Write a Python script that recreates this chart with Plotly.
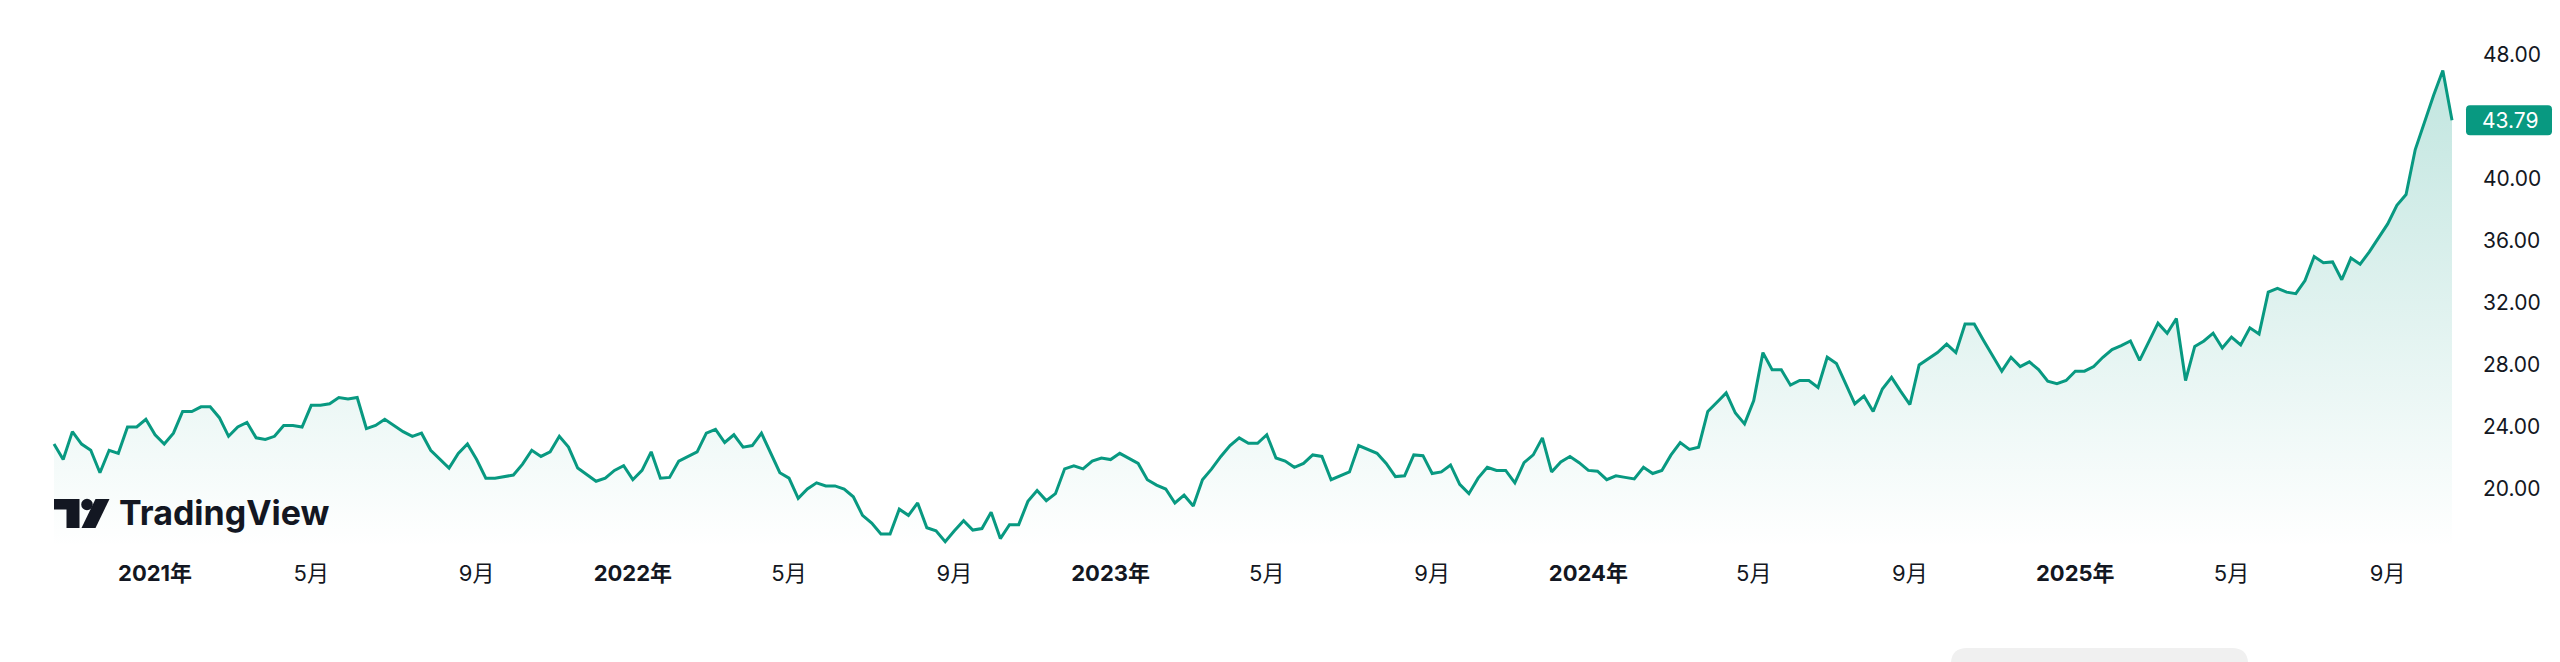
import pandas as pd
import plotly.graph_objects as go

# ---------------- data ----------------
start_date = "2020-10-19"          # first weekly bar (Monday)
close = [
    22.9, 21.9, 23.7, 22.9, 22.5, 21.05, 22.5, 22.3, 24.0, 24.0,
    24.5, 23.5, 22.9, 23.6, 25.0, 25.0, 25.3, 25.3, 24.6, 23.4,
    24.0, 24.3, 23.3, 23.2, 23.4, 24.1, 24.1, 24.0, 25.4, 25.4,
    25.5, 25.9, 25.8, 25.9, 23.9, 24.1, 24.5, 24.1, 23.7, 23.4,
    23.6, 22.5, 21.9, 21.35, 22.3, 22.9, 21.9,
    20.7, 20.7, 20.8, 20.9, 21.6, 22.5, 22.1, 22.4, 23.4, 22.7,
    21.35, 20.9, 20.5, 20.7, 21.2, 21.5, 20.6, 21.2, 22.4, 20.7,
    20.75, 21.8, 22.1, 22.4, 23.6, 23.85, 23.0, 23.5, 22.7, 22.8,
    23.6, 22.3, 21.05, 20.7, 19.4, 20.0, 20.4, 20.2, 20.2, 20.0,
    19.5, 18.3, 17.8, 17.1, 17.1, 18.7, 18.3,
    19.1, 17.5, 17.3, 16.6, 17.3, 17.95, 17.35, 17.45, 18.5, 16.8,
    17.7, 17.7, 19.2, 19.9, 19.25, 19.7, 21.3, 21.5, 21.3, 21.8,
    22.0, 21.9, 22.3, 22.0, 21.65, 20.6, 20.25, 20.0, 19.1, 19.6,
    18.9, 20.6, 21.3, 22.1, 22.8, 23.3, 22.95, 22.95, 23.5, 22.0,
    21.8, 21.4, 21.65, 22.2, 22.1, 20.6, 20.85,
    21.1, 22.8, 22.55, 22.3, 21.65, 20.8, 20.85, 22.2, 22.15, 21.0,
    21.1, 21.55, 20.3, 19.7, 20.7, 21.4, 21.2, 21.2, 20.4, 21.7,
    22.2, 23.3, 21.1, 21.75, 22.1, 21.7, 21.2, 21.15, 20.6, 20.85,
    20.75, 20.65, 21.4, 21.0, 21.2, 22.2, 23.0, 22.55, 22.7, 25.0,
    25.6, 26.2, 24.9, 24.2, 25.7, 28.8,
    27.7, 27.7, 26.7, 27.0, 27.0, 26.55, 28.5, 28.1, 26.8, 25.5,
    26.0, 25.0, 26.45, 27.2, 26.3, 25.45, 28.0, 28.4, 28.8, 29.35,
    28.8, 30.65, 30.65, 29.6, 28.6, 27.6, 28.5, 27.9, 28.2, 27.7,
    26.95, 26.8, 27.0, 27.6, 27.6, 27.9, 28.5, 29.0, 29.25, 29.55,
    28.3, 29.55, 30.7, 30.05, 31.0, 27.0, 29.2,
    29.55, 30.05, 29.1, 29.8, 29.3, 30.4, 30.0, 32.7, 32.95, 32.7,
    32.6, 33.45, 35.0, 34.6, 34.65, 33.5, 34.9, 34.5, 35.3, 36.2,
    37.1, 38.3, 39.0, 41.9, 43.7, 45.4, 47.0, 43.79,
]
dates = pd.date_range(start_date, periods=len(close), freq="W-MON")

tick_dates = ["2021-01-04", "2021-05-03", "2021-09-06", "2022-01-03", "2022-05-02",
              "2022-09-05", "2023-01-02", "2023-05-01", "2023-09-04", "2024-01-01",
              "2024-05-06", "2024-09-02", "2025-01-06", "2025-05-05", "2025-09-01"]
tick_labels = ["<b>2021年</b>", "5月", "9月", "<b>2022年</b>", "5月", "9月",
               "<b>2023年</b>", "5月", "9月", "<b>2024年</b>", "5月", "9月",
               "<b>2025年</b>", "5月", "9月"]
y_ticks = [20, 24, 28, 32, 36, 40, 48]

# ---------------- layout geometry (pixels) ----------------
W, H = 2560, 662
PLOT_L, PLOT_R = 0, 2478
PLOT_T, PLOT_B = 10, 548
FIRST_X, LAST_X = 54, 2452          # pixel x of first / last bar
Y20_PX, PX_PER_UNIT = 489, 15.5     # pixel y of value 20 and scale

GREEN = "#089981"
TEXT = "#131722"
FONT = "Inter, Noto Sans CJK SC, sans-serif"

n_days = (dates[-1] - dates[0]).days
px_per_day = (LAST_X - FIRST_X) / n_days
x_range = [dates[0] - pd.Timedelta(days=(FIRST_X - PLOT_L) / px_per_day),
           dates[0] + pd.Timedelta(days=(PLOT_R - FIRST_X) / px_per_day)]
y_range = [20 - (PLOT_B - Y20_PX) / PX_PER_UNIT, 20 + (Y20_PX - PLOT_T) / PX_PER_UNIT]


def px_x(p):
    return (p - PLOT_L) / (PLOT_R - PLOT_L)


def px_y(p):
    return (PLOT_B - p) / (PLOT_B - PLOT_T)


fig = go.Figure()
fig.add_trace(go.Scatter(
    x=dates, y=close, mode="lines",
    line=dict(color=GREEN, width=3),
    fill="tozeroy",
    fillgradient=dict(type="vertical",
                      colorscale=[[0, "rgba(8,153,129,0.0)"], [1, "rgba(8,153,129,0.25)"]],
                      start=y_range[0], stop=max(close)),
    hoverinfo="skip", showlegend=False,
))

shapes = []


def path_px(points):
    return "M " + " L ".join(f"{px_x(a):.6f},{px_y(b):.6f}" for a, b in points) + " Z"


# TradingView logo icon
shapes.append(dict(type="path", xref="paper", yref="paper", layer="above",
                   path=path_px([(54, 499), (79.5, 499), (79.5, 528), (66.5, 528), (66.5, 509.5), (54, 509.5)]),
                   fillcolor=TEXT, line=dict(width=0)))
shapes.append(dict(type="circle", xref="paper", yref="paper", layer="above",
                   x0=px_x(81.2), x1=px_x(92.8), y0=px_y(510.3), y1=px_y(498.7),
                   fillcolor=TEXT, line=dict(width=0)))
shapes.append(dict(type="path", xref="paper", yref="paper", layer="above",
                   path=path_px([(95.5, 499), (109.5, 499), (95.5, 528), (81.5, 528)]),
                   fillcolor=TEXT, line=dict(width=0)))

# last price tag (rounded box)
bw, bh, r = 86, 30, 4
tag_path = (f"M {r},{-bh/2} L {bw-r},{-bh/2} Q {bw},{-bh/2} {bw},{-bh/2+r} "
            f"L {bw},{bh/2-r} Q {bw},{bh/2} {bw-r},{bh/2} L {r},{bh/2} "
            f"Q 0,{bh/2} 0,{bh/2-r} L 0,{-bh/2+r} Q 0,{-bh/2} {r},{-bh/2} Z")
shapes.append(dict(type="path", xref="paper", yref="y", xsizemode="pixel", ysizemode="pixel",
                   xanchor=px_x(2466), yanchor=close[-1], path=tag_path,
                   fillcolor=GREEN, line=dict(width=0), layer="above"))

# grey rounded button at the bottom edge
gr = 16
gx0, gx1, gy0 = 1951, 2248, 648
btn = [f"M {px_x(gx0):.6f},{px_y(H + 5):.6f}",
       f"L {px_x(gx0):.6f},{px_y(gy0 + gr):.6f}",
       f"Q {px_x(gx0):.6f},{px_y(gy0):.6f} {px_x(gx0 + gr):.6f},{px_y(gy0):.6f}",
       f"L {px_x(gx1 - gr):.6f},{px_y(gy0):.6f}",
       f"Q {px_x(gx1):.6f},{px_y(gy0):.6f} {px_x(gx1):.6f},{px_y(gy0 + gr):.6f}",
       f"L {px_x(gx1):.6f},{px_y(H + 5):.6f} Z"]
shapes.append(dict(type="path", xref="paper", yref="paper", path=" ".join(btn),
                   fillcolor="#f0f0f0", line=dict(width=0), layer="above"))

annotations = [
    dict(text="TradingView", xref="paper", yref="paper", x=px_x(117), y=px_y(512),
         xanchor="left", yanchor="middle", showarrow=False,
         font=dict(family="Inter, sans-serif", size=34, color=TEXT, weight=700)),
    dict(text=f"{close[-1]:.2f}", xref="paper", yref="y", x=px_x(2510), y=close[-1],
         xanchor="center", yanchor="middle", showarrow=False,
         font=dict(family=FONT, size=21, color="white")),
]

fig.update_layout(
    width=W, height=H,
    margin=dict(l=PLOT_L, r=W - PLOT_R, t=PLOT_T, b=H - PLOT_B, pad=0),
    paper_bgcolor="white", plot_bgcolor="white",
    shapes=shapes, annotations=annotations,
    font=dict(family=FONT, color=TEXT),
    xaxis=dict(type="date", range=x_range, tickvals=tick_dates, ticktext=tick_labels,
               showgrid=False, zeroline=False, showline=False, ticks="",
               tickfont=dict(size=22, color=TEXT, family=FONT), ticklabelstandoff=10),
    yaxis=dict(range=y_range, side="right", tickvals=y_ticks, tickformat=".2f",
               showgrid=False, zeroline=False, showline=False, ticks="",
               tickfont=dict(size=21, color=TEXT, family=FONT), ticklabelstandoff=4),
)

fig.write_html("out.html", config={"displayModeBar": False, "staticPlot": True},
               post_script="document.body.style.margin='0';document.body.style.overflow='hidden';")
